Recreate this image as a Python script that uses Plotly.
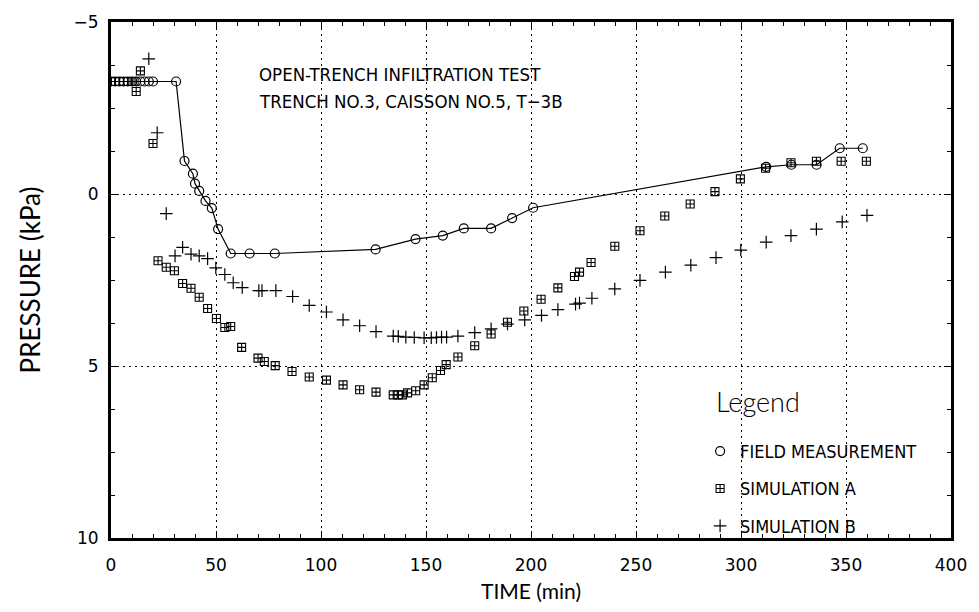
import plotly.graph_objects as go

# ---- data ----
field_t = [0, 2, 4, 6, 8, 10, 12, 14, 16, 18, 20, 31, 35, 39, 40, 42, 45, 48, 51, 57, 66, 78,
           126, 145, 158, 168, 181, 191, 201, 312, 324, 336, 347, 358]
field_p = [-3.27, -3.27, -3.27, -3.27, -3.27, -3.27, -3.27, -3.27, -3.27, -3.27, -3.27, -3.27,
           -0.96, -0.59, -0.30, -0.09, 0.20, 0.41, 1.02, 1.73, 1.73, 1.73,
           1.61, 1.31, 1.21, 1.00, 1.00, 0.70, 0.40, -0.79, -0.85, -0.85, -1.33, -1.33]

simA_t = [0, 2, 4, 6, 8, 11, 12, 14, 20, 22.4, 26.3, 30.2, 34.1, 38.1, 42, 46, 50.2, 54.2, 57,
          62.2, 70, 73, 78.2, 86.2, 94.4, 102.6, 110.5, 118.4, 126.2, 134.4, 136.7, 138.8, 141.2,
          145.1, 149.1, 153, 156.9, 159.6, 165.2, 173.2, 181, 188.8, 196.6, 204.8, 212.8, 220.7,
          223.1, 228.6, 239.9, 251.9, 263.7, 275.8, 287.6, 299.7, 311.7, 323.8, 335.9, 347.7, 359.7]
simA_p = [-3.27, -3.27, -3.27, -3.27, -3.27, -3.27, -2.98, -3.58, -1.47, 1.94, 2.13, 2.23, 2.60,
          2.74, 3.00, 3.33, 3.62, 3.88, 3.85, 4.46, 4.77, 4.87, 4.99, 5.16, 5.32, 5.41, 5.55, 5.69,
          5.76, 5.84, 5.84, 5.84, 5.78, 5.72, 5.55, 5.34, 5.13, 4.96, 4.74, 4.41, 4.07, 3.73, 3.40,
          3.06, 2.73, 2.40, 2.27, 1.99, 1.52, 1.07, 0.64, 0.29, -0.07, -0.44, -0.75, -0.91, -0.95,
          -0.95, -0.95]

simB_t = [18, 22, 26.3, 30.5, 34.1, 38.1, 42, 46, 49.9, 54.2, 58.2, 62.5, 70.4, 71.9, 78.5, 86.5,
          94.4, 102.6, 110.5, 118.4, 126.2, 134.4, 136.8, 140.4, 144.4, 149.1, 152.5, 155, 157.4,
          159.8, 165.2, 173.2, 181, 188.8, 197, 205, 212.8, 221.2, 223.1, 229, 239.9, 251.9, 264,
          276.1, 288.1, 299.9, 312, 323.8, 335.9, 348.2, 360]
simB_p = [-3.93, -1.78, 0.57, 1.80, 1.55, 1.75, 1.80, 1.88, 2.15, 2.34, 2.58, 2.72, 2.81, 2.81,
          2.81, 2.98, 3.24, 3.43, 3.66, 3.83, 4.00, 4.13, 4.14, 4.16, 4.17, 4.18, 4.18, 4.17, 4.16,
          4.16, 4.13, 4.03, 3.92, 3.78, 3.66, 3.53, 3.36, 3.20, 3.17, 3.03, 2.76, 2.51, 2.27, 2.07,
          1.85, 1.63, 1.40, 1.21, 1.02, 0.81, 0.62]

x_ticks = [0, 50, 100, 150, 200, 250, 300, 350, 400]
y_ticks = [-5, 0, 5, 10]

title_lines = ["OPEN-TRENCH INFILTRATION TEST", "TRENCH NO.3, CAISSON NO.5, T\u22123B"]
names = ["FIELD MEASUREMENT", "SIMULATION A", "SIMULATION B"]

NARROW = "DejaVu Sans Condensed, Liberation Sans Narrow, sans-serif"
LIGHT = "Lato Light, Lato, Liberation Sans, sans-serif"
TITLEF = "Lato, Liberation Sans, sans-serif"
TICKF = "DejaVu Sans, Liberation Sans, sans-serif"

fig = go.Figure()
fig.add_trace(go.Scatter(x=field_t, y=field_p, mode="lines",
                         line=dict(color="black", width=1.2),
                         showlegend=False, hoverinfo="skip"))
fig.add_trace(go.Scatter(x=field_t, y=field_p, mode="markers", name=names[0],
                         legendgroup="g1",
                         marker=dict(symbol="circle-open", size=9, color="black",
                                     line=dict(width=1.2, color="black"))))
fig.add_trace(go.Scatter(x=simA_t, y=simA_p, mode="markers", name=names[1],
                         legendgroup="g2",
                         marker=dict(symbol="square-cross-open", size=8, color="black",
                                     line=dict(width=1.1, color="black"))))
fig.add_trace(go.Scatter(x=simB_t, y=simB_p, mode="markers", name=names[2],
                         legendgroup="g3",
                         marker=dict(symbol="cross-thin-open", size=9, color="black",
                                     line=dict(width=1.2, color="black"))))

axis_common = dict(
    showline=True, linecolor="black", linewidth=3, mirror="allticks",
    ticks="inside", ticklen=7, tickwidth=1, tickcolor="black",
    showgrid=True, gridcolor="black", gridwidth=1.2, griddash="2px,4px",
    zeroline=False,
    tickfont=dict(family=TICKF, size=17, color="black"),
)

fig.update_xaxes(
    range=[0, 400], tickmode="array", tickvals=x_ticks,
    ticktext=[str(v) for v in x_ticks],
    minor=dict(dtick=10, tick0=0, ticks="inside", ticklen=4, tickcolor="black", showgrid=False),
    ticklabelstandoff=10,
    title=dict(text="TIME (min)", font=dict(family=TITLEF, size=21, color="black"), standoff=10),
    **axis_common)
fig.update_yaxes(
    range=[10, -5], tickmode="array", tickvals=y_ticks,
    ticktext=["\u22125", "0", "5", "10"],
    minor=dict(dtick=1.25, tick0=-5, ticks="inside", ticklen=4, tickcolor="black", showgrid=False),
    ticklabelstandoff=6,
    title=dict(text="PRESSURE (kPa)", font=dict(family=TITLEF, size=26, color="black"), standoff=26),
    **axis_common)

L, R, T, B = 111, 958, 18, 548
for i, line in enumerate(title_lines):
    fig.add_annotation(x=(258 - L) / (R - L), y=(B - (72 + 28 * i)) / (B - T),
                       xref="x domain", yref="paper", text=line,
                       showarrow=False, xanchor="left", yanchor="middle",
                       font=dict(family=NARROW, size=18.5, color="black"))

fig.add_annotation(x=(719 - L) / (R - L), y=(B - 408) / (B - T), xref="x domain", yref="paper",
                   text="Legend", showarrow=False, xanchor="left", yanchor="middle",
                   font=dict(family=LIGHT, size=27, color="black"))

fig.update_layout(
    width=979, height=612,
    margin=dict(l=L, r=979 - R, t=T, b=612 - B),
    plot_bgcolor="white", paper_bgcolor="white",
    showlegend=True,
    legend=dict(x=(705 - L) / (R - L), y=(B - 440) / (B - T), xanchor="left", yanchor="top",
                bgcolor="rgba(0,0,0,0)", borderwidth=0,
                font=dict(family=NARROW, size=18, color="black"),
                tracegroupgap=11, itemwidth=30),
)

fig.write_html("out.html")
